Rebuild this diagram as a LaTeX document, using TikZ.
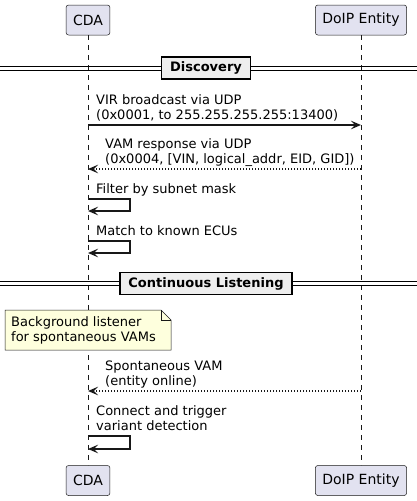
\documentclass[tikz,border=0pt]{standalone}
\usepackage{fontspec}
\setmainfont{DejaVu Sans}
\usetikzlibrary{arrows.meta,calc}
\definecolor{partfill}{HTML}{E2E2F0}
\definecolor{notefill}{HTML}{FEFFDD}
\definecolor{divfill}{HTML}{EEEEEE}
\definecolor{linecol}{HTML}{181818}
\tikzset{
	actor/.style={draw=linecol, fill=partfill, rounded corners=2.5pt, minimum height=30pt, inner xsep=7pt, line width=0.5pt, font=\fontsize{14}{16}\selectfont},
	lifeline/.style={draw=linecol, line width=0.5pt, dash pattern=on 5pt off 5pt},
	msg/.style={draw=linecol, line width=1.5pt, -{Stealth[length=10pt,width=8.5pt,inset=4pt]}},
	reply/.style={msg, dash pattern=on 1.5pt off 1.5pt},
	lbl/.style={font=\fontsize{13}{15.5}\selectfont, align=left, inner sep=0pt, text depth=3pt, anchor=south west},
	divbox/.style={draw=black, fill=divfill, line width=1.5pt, inner xsep=8.5pt, minimum height=22pt, font=\bfseries\fontsize{13}{15}\selectfont},
	notebox/.style={draw=linecol, fill=notefill, line width=0.5pt}
}

\begin{document}
\begin{tikzpicture}[x=1pt,y=-1pt]
		%%%%% START %%%%%
		\useasboundingbox (0,0) rectangle (417,501);
		
		\node[actor] (cdaTop) at (88,20) {CDA};
		\node[actor] (doipTop) at (361,20) {DoIP Entity};
		\node[actor] (cdaBot) at (88,480.5) {CDA};
		\node[actor] (doipBot) at (361,480.5) {DoIP Entity};
		\draw[lifeline] (cdaTop) -- (cdaBot);
		\draw[lifeline] (doipTop) -- (doipBot);
		
		\draw[line width=1pt] (0,66) -- (417,66) (0,70) -- (417,70);
		\node[divbox] (discovery) at (206,68) {Discovery};
		
		\draw[msg] (cdaTop |- 0,125) -- (doipTop |- 0,125);
		\node[lbl] (virLbl) at (96,123) {VIR broadcast via UDP\\(0x0001, to 255.255.255.255:13400)};
		
		\draw[reply] (doipTop |- 0,169) -- (cdaTop |- 0,169);
		\node[lbl] (vamLbl) at (105,167) {VAM response via UDP\\(0x0004, [VIN, logical\_addr, EID, GID])};
		
		\draw[msg] (cdaTop |- 0,199) -- ++(42,0) -- ++(0,12) -- (cdaTop |- 0,211);
		\node[lbl] (filterLbl) at (96,197) {Filter by subnet mask};
		
		\draw[msg] (cdaTop |- 0,241) -- ++(42,0) -- ++(0,12) -- (cdaTop |- 0,253);
		\node[lbl] (matchLbl) at (96,239) {Match to known ECUs};
		
		\draw[line width=1pt] (0,281) -- (417,281) (0,285) -- (417,285);
		\node[divbox] (listening) at (206,283.5) {Continuous Listening};
		
		\draw[notebox] (5,310) -- (161,310) -- (171,320) -- (171,350) -- (5,350) -- cycle;
		\draw[notebox, fill=none] (161,310) -- (161,320) -- (171,320);
		\node[lbl, anchor=west, text depth=] (noteTxt) at (11,330.5) {Background listener\\for spontaneous VAMs};
		
		\draw[reply] (doipTop |- 0,391) -- (cdaTop |- 0,391);
		\node[lbl] (spontLbl) at (105,389) {Spontaneous VAM\\(entity online)};
		
		\draw[msg] (cdaTop |- 0,436) -- ++(42,0) -- ++(0,13) -- (cdaTop |- 0,449);
		\node[lbl] (connectLbl) at (96,434) {Connect and trigger\\variant detection};
		
		%%%%% END %%%%%
	\end{tikzpicture}
\end{document}
